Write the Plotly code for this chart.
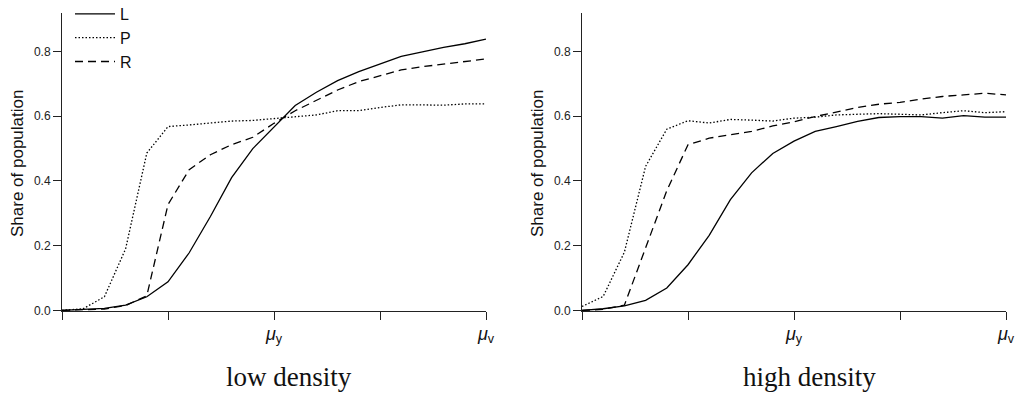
import plotly.graph_objects as go

# ---- data ----
x_vals = [0.00, 0.05, 0.10, 0.15, 0.20, 0.25, 0.30, 0.35, 0.40, 0.45, 0.50,
          0.55, 0.60, 0.65, 0.70, 0.75, 0.80, 0.85, 0.90, 0.95, 1.00]

L_low = [0.000, 0.002, 0.006, 0.016, 0.042, 0.088, 0.178, 0.290, 0.410, 0.500, 0.566,
         0.633, 0.674, 0.710, 0.738, 0.761, 0.785, 0.799, 0.813, 0.824, 0.838]
P_low = [0.000, 0.005, 0.042, 0.190, 0.486, 0.568, 0.573, 0.580, 0.585, 0.587, 0.592,
         0.597, 0.604, 0.617, 0.617, 0.627, 0.635, 0.635, 0.634, 0.638, 0.638]
R_low = [0.000, 0.001, 0.004, 0.015, 0.045, 0.327, 0.435, 0.481, 0.512, 0.535, 0.578,
         0.617, 0.650, 0.681, 0.707, 0.724, 0.743, 0.753, 0.761, 0.768, 0.777]

L_high = [0.000, 0.005, 0.014, 0.031, 0.069, 0.141, 0.232, 0.342, 0.425, 0.485, 0.523,
          0.553, 0.568, 0.584, 0.596, 0.599, 0.599, 0.594, 0.602, 0.597, 0.597]
P_high = [0.012, 0.043, 0.180, 0.445, 0.560, 0.586, 0.579, 0.590, 0.588, 0.585, 0.594,
          0.597, 0.604, 0.607, 0.608, 0.606, 0.604, 0.611, 0.617, 0.611, 0.614]
R_high = [0.000, 0.003, 0.016, 0.190, 0.370, 0.512, 0.532, 0.543, 0.553, 0.570, 0.583,
          0.599, 0.614, 0.627, 0.637, 0.643, 0.653, 0.661, 0.666, 0.671, 0.666]

series_names = ["L", "P", "R"]
x_tickvals = [0, 0.25, 0.5, 0.75, 1.0]
x_ticktext = ["", "", "<i>μ</i><sub>y</sub>", "", "<i>μ</i><sub>v</sub>"]
y_tickvals = [0.0, 0.2, 0.4, 0.6, 0.8]
y_ticktext = ["0.0", "0.2", "0.4", "0.6", "0.8"]
panel_titles = ["low density", "high density"]
y_title = "Share of population"

# ---- styles ----
W, H = 1031, 398
dashes = {"L": "solid", "P": "1.5px,2px", "R": "8px,5px"}
sans = "Liberation Sans, Arial, sans-serif"
serif = "Liberation Serif, Times New Roman, serif"

fig = go.Figure()
panels = [(L_low, P_low, R_low), (L_high, P_high, R_high)]
for pi, vals in enumerate(panels):
    xa = "x" if pi == 0 else "x2"
    ya = "y" if pi == 0 else "y2"
    for name, ys in zip(series_names, vals):
        fig.add_trace(go.Scatter(
            x=x_vals, y=ys, mode="lines", name=name,
            xaxis=xa, yaxis=ya, showlegend=(pi == 0),
            line=dict(color="black", width=1.3, dash=dashes[name]),
        ))

def px2fx(p):
    return p / W

def py2fy(p):
    return 1 - p / H

ydom = [py2fy(311), py2fy(13)]
xdoms = [[px2fx(62), px2fx(486)], [px2fx(582), px2fx(1006)]]

axis_common_x = dict(
    range=[0, 1], showline=True, linecolor="#222", linewidth=1,
    ticks="outside", ticklen=8, tickwidth=1, tickcolor="#222",
    tickvals=x_tickvals, ticktext=x_ticktext, showgrid=False, zeroline=False,
    tickfont=dict(family=sans, size=18, color="#111"), ticklabelstandoff=-2,
    automargin=False,
)
axis_common_y = dict(
    range=[-0.002, 0.919], showline=True, linecolor="#222", linewidth=1,
    ticks="outside", ticklen=8, tickwidth=1, tickcolor="#222",
    tickvals=y_tickvals, ticktext=y_ticktext, showgrid=False, zeroline=False,
    tickfont=dict(family=sans, size=12, color="#222"),
    automargin=False,
)

fig.update_layout(
    width=W, height=H,
    margin=dict(l=0, r=0, t=0, b=0, autoexpand=False),
    paper_bgcolor="white", plot_bgcolor="white",
    xaxis=dict(domain=xdoms[0], anchor="y", **axis_common_x),
    yaxis=dict(domain=ydom, anchor="x", **axis_common_y),
    xaxis2=dict(domain=xdoms[1], anchor="y2", **axis_common_x),
    yaxis2=dict(domain=ydom, anchor="x2", **axis_common_y),
    legend=dict(x=px2fx(70), y=py2fy(-3), xanchor="left", yanchor="top",
                bgcolor="rgba(0,0,0,0)", font=dict(family=sans, size=16, color="#111"),
                tracegroupgap=0, itemwidth=40),
    showlegend=True,
)

annotations = []
for pi, cx in enumerate([289, 809]):
    annotations.append(dict(
        x=px2fx(cx), y=py2fy(377), xref="paper", yref="paper",
        text=panel_titles[pi], showarrow=False, xanchor="center", yanchor="middle",
        font=dict(family=serif, size=27, color="#111"),
    ))
for cx in [17, 537]:
    annotations.append(dict(
        x=px2fx(cx), y=py2fy(164), xref="paper", yref="paper",
        text=y_title, showarrow=False, textangle=-90, xanchor="center", yanchor="middle",
        font=dict(family=sans, size=17, color="#111"),
    ))
fig.update_layout(annotations=annotations)

fig.write_html("out.html")
